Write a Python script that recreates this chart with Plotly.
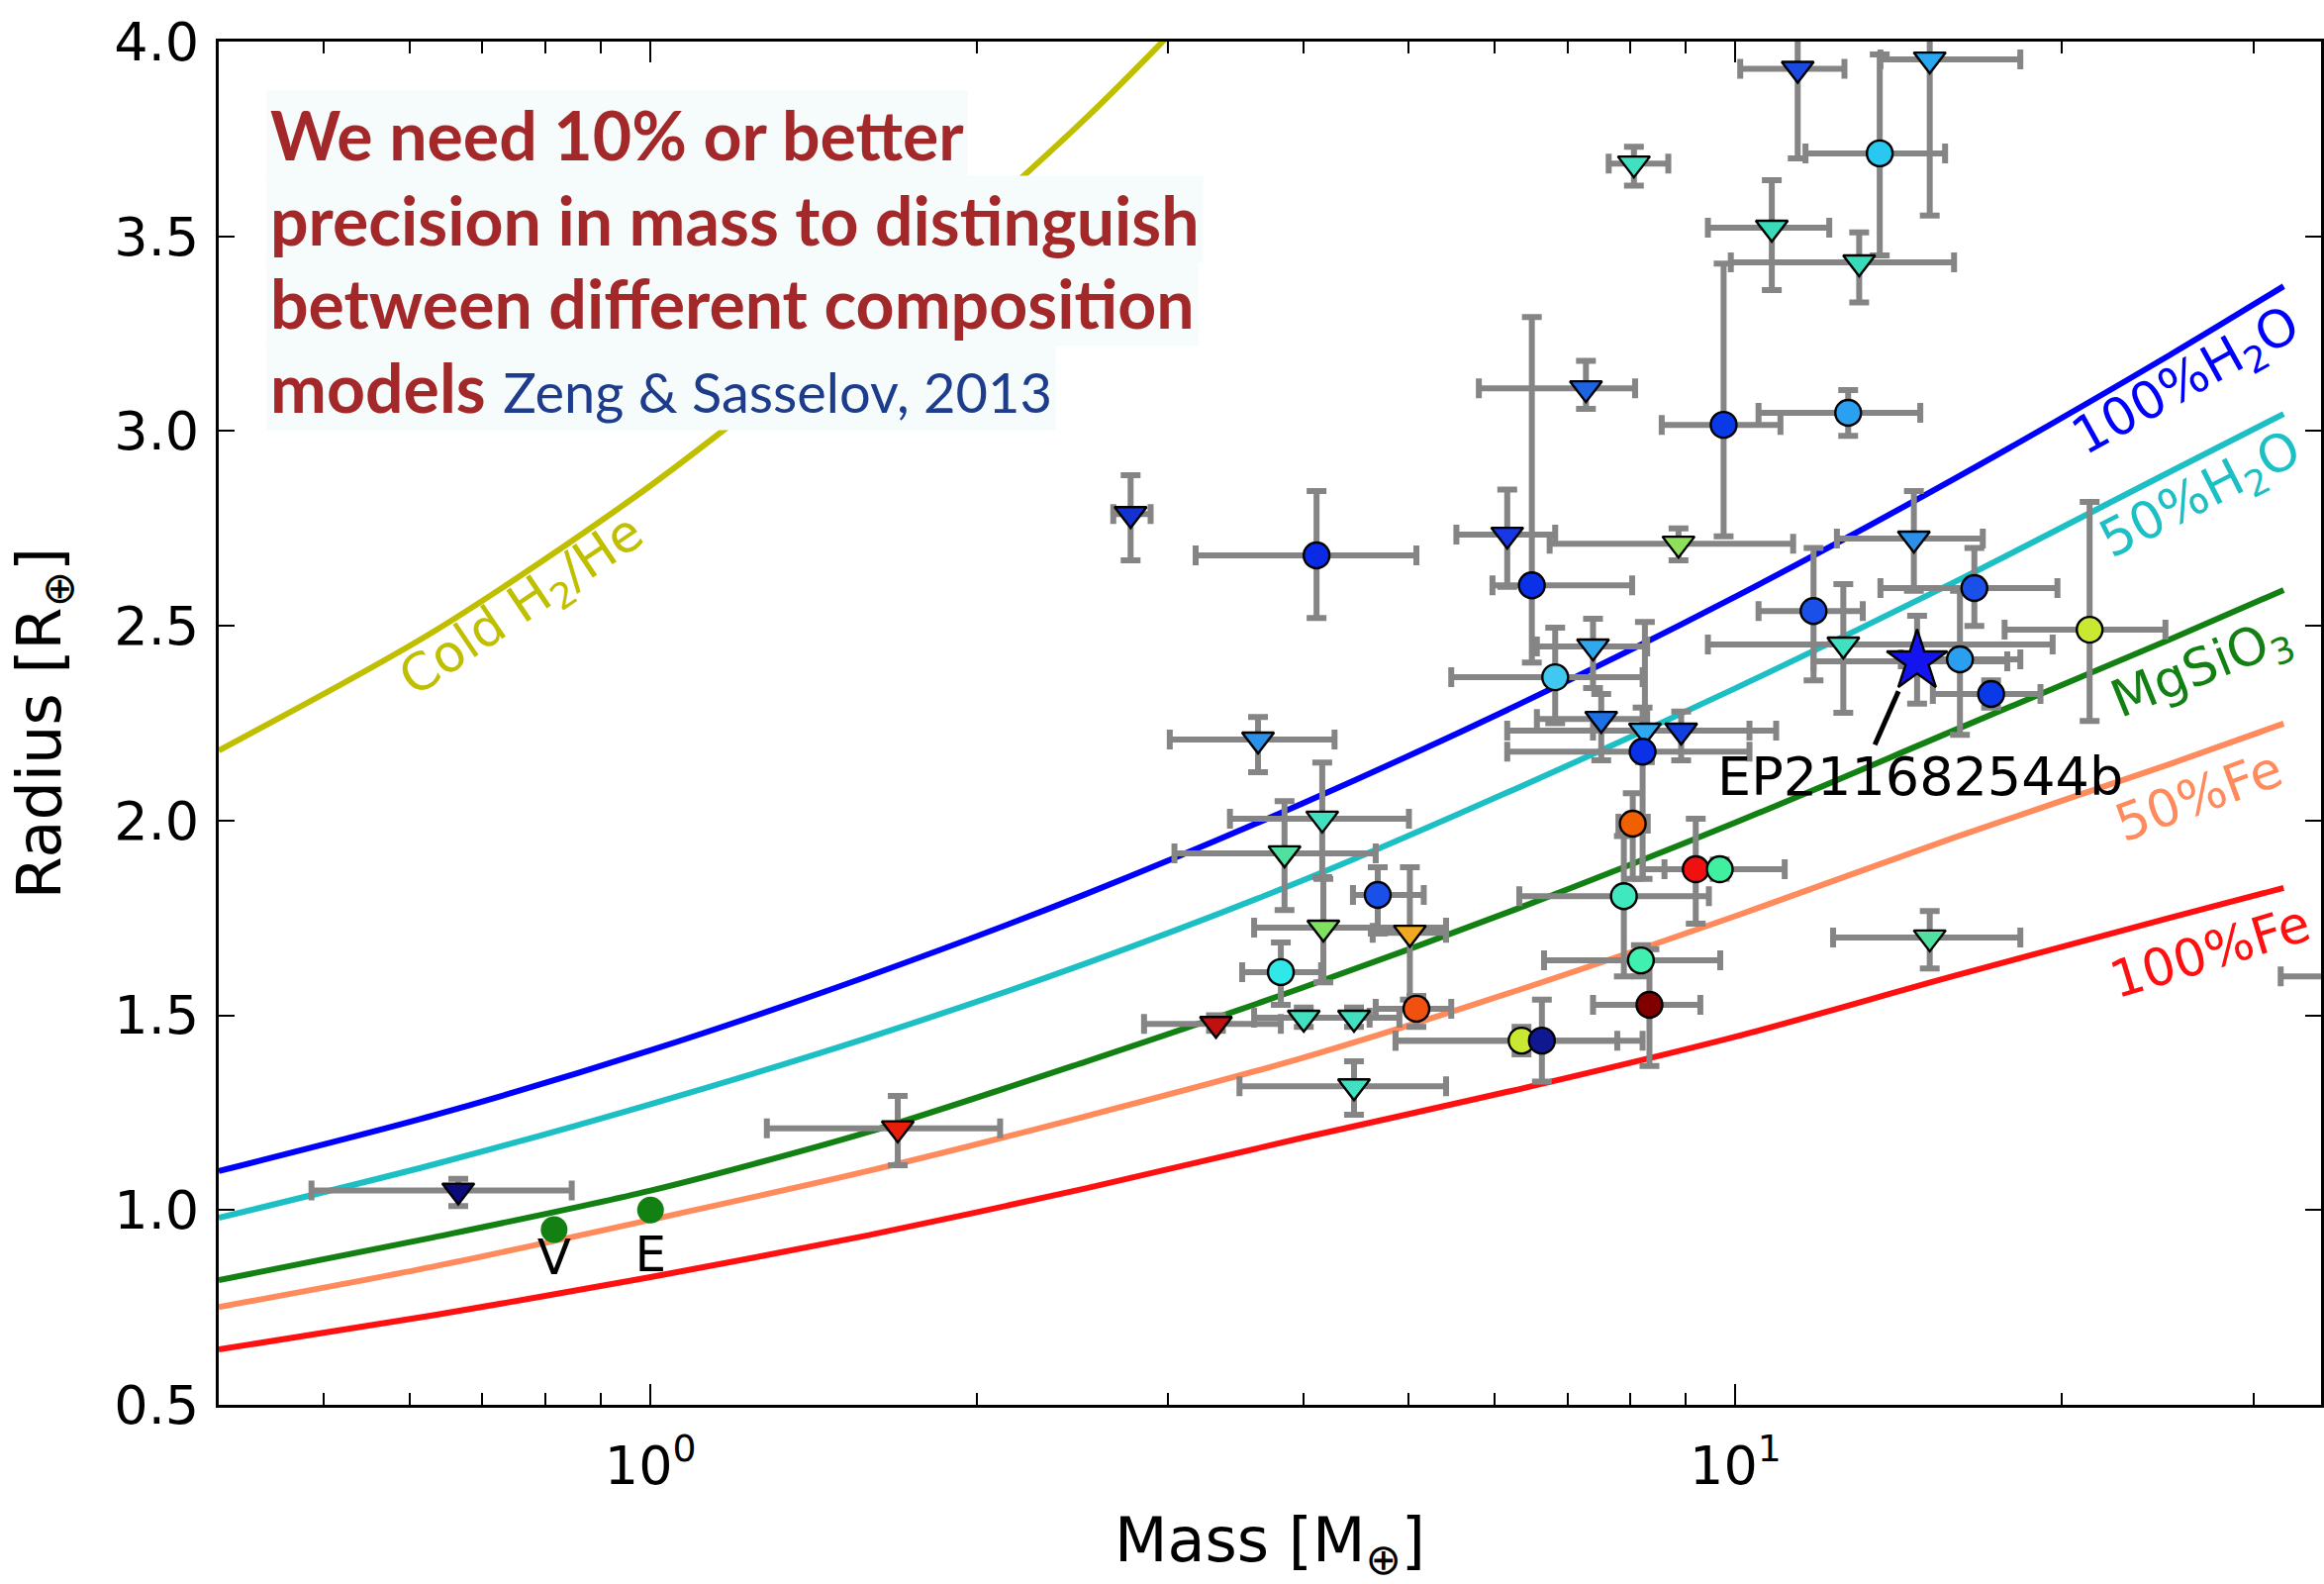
import numpy as np
import plotly.graph_objects as go

# ---------------- composition model curves ----------------
curve_mass = [0.40, 0.631, 1.0, 1.585, 2.512, 3.981, 6.310, 10.0, 15.85, 25.12, 32.0]
h2he_mass = [0.40, 0.631, 1.0, 1.585, 2.512, 3.162]
h2he_radius = [2.18, 2.485, 2.86, 3.30, 3.80, 4.08]
water100_radius = [1.10, 1.243, 1.41, 1.60, 1.81, 2.043, 2.298, 2.575, 2.875, 3.195, 3.372]
water50_radius = [0.98, 1.117, 1.272, 1.442, 1.632, 1.845, 2.085, 2.34, 2.61, 2.895, 3.044]
mgsio3_radius = [0.82, 0.93, 1.05, 1.20, 1.38, 1.57, 1.775, 1.995, 2.23, 2.465, 2.592]
fe50_radius = [0.751, 0.855, 0.975, 1.10, 1.24, 1.39, 1.565, 1.755, 1.955, 2.145, 2.249]
fe100_radius = [0.642, 0.73, 0.828, 0.935, 1.055, 1.185, 1.31, 1.445, 1.60, 1.75, 1.827]

curve_names = ["Cold H<sub>2</sub>/He", "100%H<sub>2</sub>O", "50%H<sub>2</sub>O",
               "MgSiO<sub>3</sub>", "50%Fe", "100%Fe"]
curve_colors = ["#bfbf00", "#0000ff", "#1cbfc4", "#128012", "#ff8a5c", "#ff1010"]
# label anchor points (mass, radius) and text angle
label_mass = [0.763, 26.1, 26.9, 26.9, 26.7, 27.4]
label_radius = [2.546, 3.123, 2.831, 2.386, 2.063, 1.664]
label_angle = [-34, -29, -27, -22, -20, -17]

# ---------------- planets ----------------
planet_mass = [0.665, 1.69, 2.77, 4.11, 6.16, 8.86, 7.28, 9.75, 12.7, 8.06,
               10.8, 13.0, 11.41, 15.1, 13.58, 6.49, 11.8, 12.57, 14.7, 16.1,
               16.6, 17.2, 14.6, 21.2, 15.1, 7.39, 6.82, 7.52, 8.25, 8.91,
               8.21, 3.63, 4.16, 3.84, 4.68, 4.17, 5.01, 3.81, 3.32, 4.0,
               4.45, 5.08, 4.45, 6.35, 6.63, 8.33, 8.18, 7.89, 8.04, 9.19,
               9.67, 38.0]
planet_radius = [1.05, 1.21, 2.787, 2.681, 2.734, 2.711, 3.11, 3.016, 3.047, 3.687,
                 3.522, 3.433, 3.93, 3.954, 3.713, 2.604, 2.538, 2.452, 2.409, 2.414,
                 2.597, 2.325, 2.724, 2.49, 1.70, 2.447, 2.368, 2.261, 2.231, 2.231,
                 2.177, 2.208, 2.005, 1.916, 1.809, 1.725, 1.712, 1.611, 1.478, 1.494,
                 1.494, 1.517, 1.318, 1.435, 1.435, 1.527, 1.641, 1.806, 1.992, 1.875,
                 1.875, 1.60]
mass_low = [0.487, 1.28, 2.67, 3.18, 5.53, 6.74, 5.80, 8.55, 10.5, 7.64,
            9.43, 9.9, 10.1, 13.6, 11.6, 5.97, 10.5, 9.43, 11.8, 14.2,
            13.6, 15.2, 12.4, 17.7, 12.3, 6.56, 5.47, 6.56, 6.16, 7.39,
            6.16, 3.01, 3.42, 3.04, 4.44, 3.60, 4.63, 3.51, 2.85, 3.60,
            4.0, 4.66, 3.49, 4.86, 4.86, 7.39, 6.66, 6.32, 7.8, 8.6,
            8.21, 31.8]
mass_high = [0.846, 2.10, 2.89, 5.08, 6.82, 11.3, 8.08, 11.0, 14.8, 8.67,
             12.2, 15.9, 12.6, 18.3, 15.6, 8.03, 13.1, 19.6, 17.8, 18.3,
             19.8, 19.1, 16.9, 24.9, 18.3, 8.29, 8.21, 8.29, 10.9, 10.3,
             10.3, 4.27, 5.0, 4.66, 5.16, 5.41, 5.41, 4.15, 3.81, 4.6,
             4.9, 5.47, 5.41, 7.78, 8.21, 9.28, 9.68, 9.45, 8.3, 9.8,
             11.1, 45.0]
radius_low = [1.01, 1.115, 2.668, 2.52, 2.60, 2.668, 3.057, 2.73, 2.988, 3.63,
              3.362, 3.33, 3.70, 3.553, 3.451, 2.406, 2.36, 2.277, 2.30, 2.22,
              2.50, 2.29, 2.59, 2.256, 1.62, 2.34, 2.25, 2.155, 2.15, 2.155,
              1.85, 2.124, 1.855, 1.77, 1.71, 1.585, 1.54, 1.527, 1.46, 1.47,
              1.47, 1.47, 1.245, 1.40, 1.33, 1.37, 1.60, 1.60, 1.85, 1.735,
              1.85, 1.58]
radius_high = [1.08, 1.293, 2.887, 2.846, 2.85, 2.75, 3.18, 3.43, 3.105, 3.73,
               3.644, 3.51, 4.1, 4.1, 3.967, 3.293, 2.70, 2.607, 2.526, 2.59,
               2.70, 2.36, 2.846, 2.818, 1.768, 2.518, 2.495, 2.325, 2.51, 2.28,
               2.29, 2.266, 2.149, 2.05, 1.88, 1.85, 1.88, 1.687, 1.50, 1.52,
               1.52, 1.55, 1.382, 1.47, 1.54, 1.67, 1.68, 1.96, 2.07, 2.005,
               1.90, 1.62]
planet_symbol = ["triangle-down", "triangle-down", "triangle-down", "circle", "triangle-down",
                 "triangle-down", "triangle-down", "circle", "circle", "triangle-down",
                 "triangle-down", "triangle-down", "triangle-down", "triangle-down", "circle",
                 "circle", "circle", "triangle-down", "star", "circle",
                 "circle", "circle", "triangle-down", "circle", "triangle-down",
                 "triangle-down", "circle", "triangle-down", "triangle-down", "triangle-down",
                 "circle", "triangle-down", "triangle-down", "triangle-down", "circle",
                 "triangle-down", "triangle-down", "circle", "triangle-down", "triangle-down",
                 "triangle-down", "circle", "triangle-down", "circle", "circle",
                 "circle", "circle", "circle", "circle", "circle",
                 "circle", "circle"]
planet_color = ["#0b0b7a", "#e81e0c", "#1432d2", "#0a2ae6", "#1838e6",
                "#8ee05a", "#1e64e0", "#0a3ae8", "#2ca0f0", "#40e0c0",
                "#38dcb8", "#38dcb8", "#1a4ae0", "#28a8f0", "#28c8f0",
                "#0a30e8", "#1a50e8", "#40e0c0", "#1414f0", "#2a9ff0",
                "#1a50e8", "#0a3ae8", "#2a90e8", "#c8e832", "#50e0a0",
                "#30a8f0", "#40c8f0", "#1e70e8", "#30a8f0", "#1040e0",
                "#0a30e8", "#2a90e8", "#40e0c0", "#50e0a0", "#1a50e8",
                "#80e060", "#f0a820", "#30e8e8", "#c01010", "#40e0c0",
                "#40e0c0", "#f05010", "#40e0c0", "#c8e832", "#101890",
                "#800000", "#40f0b0", "#40e8c0", "#f06000", "#f01010",
                "#40f0a0", "#40e0c0"]

# Solar-system planets
solar_mass = [0.815, 1.0]
solar_radius = [0.95, 1.0]
solar_label = ["V", "E"]
solar_label_radius = [0.868, 0.876]

# highlighted planet label and pointer
ep_label = "EP211682544b"
ep_label_mass = 14.8
ep_label_radius = 2.101
pointer_mass = [14.13, 13.44]
pointer_radius = [2.332, 2.195]

# axis ticks
x_tickvals = [1, 10]
x_ticktext = ["10<sup>0</sup>", "10<sup>1</sup>"]
x_minor = [0.5, 0.6, 0.7, 0.8, 0.9, 2, 3, 4, 5, 6, 7, 8, 9, 20, 30]
y_tickvals = [0.5, 1.0, 1.5, 2.0, 2.5, 3.0, 3.5, 4.0]

# note text (one entry per line)
note_lines = ["<b>We need 10% or better</b>",
              "<b>precision in mass to distinguish</b>",
              "<b>between different composition</b>",
              "<b>models</b> <span style='color:#1d3c8c;font-weight:normal;font-size:56px'>Zeng &amp; Sasselov, 2013</span>"]

# ---------------- figure ----------------
fig = go.Figure()

curves = [(h2he_mass, h2he_radius), (curve_mass, water100_radius),
          (curve_mass, water50_radius), (curve_mass, mgsio3_radius),
          (curve_mass, fe50_radius), (curve_mass, fe100_radius)]
for (m, r), c in zip(curves, curve_colors):
    fig.add_trace(go.Scatter(x=m, y=r, mode="lines",
                             line=dict(color=c, width=6, shape="spline", smoothing=0.8),
                             hoverinfo="skip"))

pm = np.array(planet_mass)
pr = np.array(planet_radius)
size_map = {"circle": 26, "triangle-down": 28, "star": 46}
fig.add_trace(go.Scatter(
    x=planet_mass, y=planet_radius, mode="markers",
    marker=dict(size=[size_map[s] for s in planet_symbol], symbol=planet_symbol,
                color=planet_color, line=dict(color="black", width=2.4), opacity=1),
    error_x=dict(type="data", symmetric=False, array=np.array(mass_high) - pm,
                 arrayminus=pm - np.array(mass_low), color="#858585", thickness=6, width=10),
    error_y=dict(type="data", symmetric=False, array=np.array(radius_high) - pr,
                 arrayminus=pr - np.array(radius_low), color="#858585", thickness=6, width=10),
))

fig.add_trace(go.Scatter(x=solar_mass, y=solar_radius, mode="markers",
                         marker=dict(size=27, color="#128012", line=dict(width=0))))
fig.add_trace(go.Scatter(x=solar_mass, y=solar_label_radius, mode="text", text=solar_label,
                         textfont=dict(size=50, color="black", family="DejaVu Sans")))

fig.add_trace(go.Scatter(x=pointer_mass, y=pointer_radius, mode="lines",
                         line=dict(color="black", width=5)))
fig.add_trace(go.Scatter(x=[ep_label_mass], y=[ep_label_radius], mode="text", text=[ep_label],
                         textfont=dict(size=54, color="black", family="DejaVu Sans")))

annotations = []
for name, c, lm, lr, ang in zip(curve_names, curve_colors, label_mass, label_radius, label_angle):
    annotations.append(dict(x=np.log10(lm), y=lr, xref="x", yref="y", text=name,
                            showarrow=False, textangle=ang,
                            font=dict(size=52, color=c, family="DejaVu Sans")))

line_y = [0.932, 0.870, 0.8085, 0.7468]
for t, yy in zip(note_lines, line_y):
    annotations.append(dict(x=0.0225, y=yy, xref="paper", yref="paper", text=t,
                            showarrow=False, xanchor="left", yanchor="middle",
                            bgcolor="#f6fbfb", borderpad=3,
                            font=dict(size=68, color="#a3282a", family="Lato")))

fig.update_layout(
    width=2348, height=1600,
    margin=dict(l=221, r=0, t=42, b=181),
    paper_bgcolor="white", plot_bgcolor="white",
    showlegend=False,
    font=dict(family="DejaVu Sans", size=54, color="black"),
    annotations=annotations,
    xaxis=dict(type="log", range=[np.log10(0.4), 1.5396],
               tickvals=x_tickvals, ticktext=x_ticktext,
               ticks="inside", ticklen=21, tickwidth=2, tickcolor="black",
               showline=True, linecolor="black", linewidth=3, mirror="ticks",
               showgrid=False, zeroline=False, ticklabelstandoff=12,
               minor=dict(tickvals=x_minor, ticks="inside", ticklen=12, tickwidth=2,
                          tickcolor="black", showgrid=False),
               tickfont=dict(size=54),
               title=dict(text="Mass [M<sub>⊕</sub>]", font=dict(size=62), standoff=30)),
    yaxis=dict(range=[0.5, 4.0], tickvals=y_tickvals, tickformat=".1f",
               ticks="inside", ticklen=16, tickwidth=2, tickcolor="black",
               showline=True, linecolor="black", linewidth=3, mirror="ticks",
               showgrid=False, zeroline=False, ticklabelstandoff=6,
               tickfont=dict(size=54),
               title=dict(text="Radius [R<sub>⊕</sub>]", font=dict(size=62), standoff=34)),
)

fig.write_html("out.html")
